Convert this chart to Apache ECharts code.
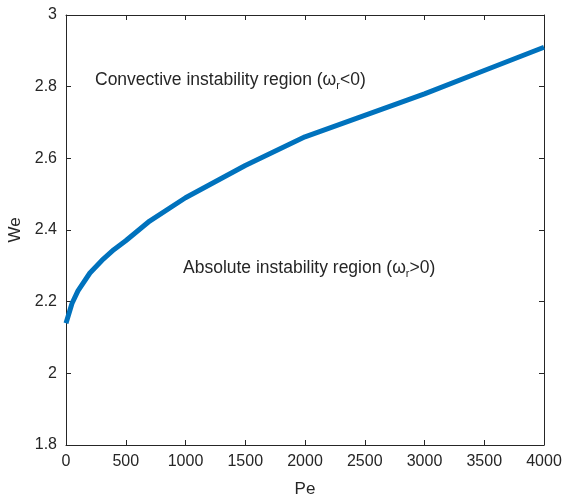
<!DOCTYPE html>
<html>
<head>
<meta charset="utf-8">
<script src="https://cdn.jsdelivr.net/npm/echarts@6/dist/echarts.min.js"></script>
<style>
  html, body { margin: 0; padding: 0; background: #fff; }
  #chart { width: 566px; height: 498px; }
</style>
</head>
<body>
<div id="chart"></div>
<script>
const pe = [0, 50, 100, 200, 300, 400, 500, 700, 1000, 1500, 2000, 2500, 3000, 3500, 4000];
const we = [2.14, 2.195, 2.23, 2.28, 2.315, 2.345, 2.37, 2.425, 2.49, 2.58, 2.66, 2.72, 2.78, 2.845, 2.91];
const xTicks = [0, 500, 1000, 1500, 2000, 2500, 3000, 3500, 4000];
const yTicks = [1.8, 2, 2.2, 2.4, 2.6, 2.8, 3];

const ink = "#262626";
const font = "Liberation Sans, Arial, sans-serif";
const chart = echarts.init(document.getElementById("chart"));

const axisBase = {
  axisLine: { show: true, onZero: false, lineStyle: { color: ink, width: 1 } },
  axisTick: { show: true, inside: true, length: 5, lineStyle: { color: ink } },
  splitLine: { show: false }
};

chart.setOption({
  animation: false,
  textStyle: { fontFamily: font },
  grid: { left: 66, right: 22, top: 15, bottom: 53, containLabel: false, outerBoundsMode: "none" },
  xAxis: [
    Object.assign({}, axisBase, {
      type: "value", min: xTicks[0], max: xTicks[xTicks.length - 1], interval: 500, position: "bottom",
      name: "Pe", nameLocation: "middle", nameGap: 36,
      nameTextStyle: { color: ink, fontSize: 17, fontFamily: font },
      axisLabel: { color: ink, fontSize: 16, margin: 9, fontFamily: font, formatter: (v) => String(v) }
    }),
    Object.assign({}, axisBase, {
      type: "value", min: xTicks[0], max: xTicks[xTicks.length - 1], interval: 500, position: "top",
      axisLabel: { show: false }
    })
  ],
  yAxis: [
    Object.assign({}, axisBase, {
      type: "value", min: yTicks[0], max: yTicks[yTicks.length - 1], interval: 0.2, position: "left",
      name: "We", nameLocation: "middle", nameGap: 40,
      nameTextStyle: { color: ink, fontSize: 17, fontFamily: font },
      axisLabel: {
        color: ink, fontSize: 16, margin: 9, fontFamily: font,
        formatter: (v) => String(Math.round(v * 10) / 10)
      }
    }),
    Object.assign({}, axisBase, {
      type: "value", min: yTicks[0], max: yTicks[yTicks.length - 1], interval: 0.2, position: "right",
      axisLabel: { show: false }
    })
  ],
  series: [{
    type: "line",
    data: pe.map((x, i) => [x, we[i]]),
    showSymbol: false,
    lineStyle: { color: "#0072BD", width: 5 },
    itemStyle: { color: "#0072BD" }
  }],
  graphic: [
    {
      type: "text", left: 95, top: 71,
      style: {
        text: "{t|Convective instability region (\u03c9}{s|r}{t|<0)}",
        rich: {
          t: { fontSize: 17.5, fill: ink, fontFamily: font },
          s: { fontSize: 11, fill: ink, fontFamily: font, padding: [12, 0, 0, 0] }
        }
      }
    },
    {
      type: "text", left: 183, top: 259,
      style: {
        text: "{t|Absolute instability region (\u03c9}{s|r}{t|>0)}",
        rich: {
          t: { fontSize: 17.5, fill: ink, fontFamily: font },
          s: { fontSize: 11, fill: ink, fontFamily: font, padding: [12, 0, 0, 0] }
        }
      }
    }
  ]
});
</script>
</body>
</html>
